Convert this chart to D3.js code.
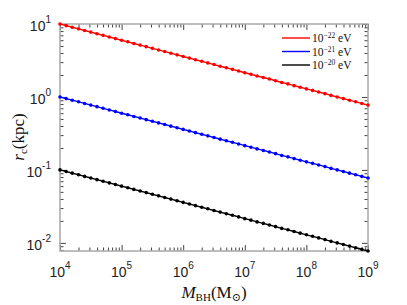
<!DOCTYPE html>
<meta charset="utf-8">
<style>
  body { margin: 0; background: #fff; }
  svg { display: block; }
  .tick-lab { font: 14px "Liberation Sans", Arial, sans-serif; fill: #222; }
  .serif { font-family: "Liberation Serif", "DejaVu Serif", serif; fill: #111; }
</style>
<svg width="407" height="305"></svg>
<script src="https://d3js.org/d3.v7.min.js"></script>
<script>

// black hole masses (M_sun), 0.1 dex apart
var masses = [
  1.00e4, 1.26e4, 1.58e4, 2.00e4, 2.51e4, 3.16e4, 3.98e4, 5.01e4, 6.31e4, 7.94e4,
  1.00e5, 1.26e5, 1.58e5, 2.00e5, 2.51e5, 3.16e5, 3.98e5, 5.01e5, 6.31e5, 7.94e5,
  1.00e6, 1.26e6, 1.58e6, 2.00e6, 2.51e6, 3.16e6, 3.98e6, 5.01e6, 6.31e6, 7.94e6,
  1.00e7, 1.26e7, 1.58e7, 2.00e7, 2.51e7, 3.16e7, 3.98e7, 5.01e7, 6.31e7, 7.94e7,
  1.00e8, 1.26e8, 1.58e8, 2.00e8, 2.51e8, 3.16e8, 3.98e8, 5.01e8, 6.31e8, 7.94e8,
  1.00e9
];

// r_c (kpc) for each boson mass
var rc22 = [
  10.00, 9.50, 9.03, 8.58, 8.15, 7.74, 7.36, 6.99, 6.64, 6.31,
  5.99, 5.70, 5.41, 5.14, 4.89, 4.64, 4.41, 4.19, 3.98, 3.78,
  3.59, 3.41, 3.24, 3.08, 2.93, 2.78, 2.64, 2.51, 2.39, 2.27,
  2.15, 2.05, 1.94, 1.85, 1.76, 1.67, 1.58, 1.51, 1.43, 1.36,
  1.29, 1.23, 1.17, 1.11, 1.05, 1.00, 0.950, 0.903, 0.858, 0.815,
  0.774
];
var rc21 = [
  1.000, 0.950, 0.903, 0.858, 0.815, 0.774, 0.736, 0.699, 0.664, 0.631,
  0.599, 0.570, 0.541, 0.514, 0.489, 0.464, 0.441, 0.419, 0.398, 0.378,
  0.359, 0.341, 0.324, 0.308, 0.293, 0.278, 0.264, 0.251, 0.239, 0.227,
  0.215, 0.205, 0.194, 0.185, 0.176, 0.167, 0.158, 0.151, 0.143, 0.136,
  0.129, 0.123, 0.117, 0.111, 0.105, 0.100, 0.0950, 0.0903, 0.0858, 0.0815,
  0.0774
];
var rc20 = [
  0.1000, 0.0950, 0.0903, 0.0858, 0.0815, 0.0774, 0.0736, 0.0699, 0.0664, 0.0631,
  0.0599, 0.0570, 0.0541, 0.0514, 0.0489, 0.0464, 0.0441, 0.0419, 0.0398, 0.0378,
  0.0359, 0.0341, 0.0324, 0.0308, 0.0293, 0.0278, 0.0264, 0.0251, 0.0239, 0.0227,
  0.0215, 0.0205, 0.0194, 0.0185, 0.0176, 0.0167, 0.0158, 0.0151, 0.0143, 0.0136,
  0.0129, 0.0123, 0.0117, 0.0111, 0.0105, 0.0100, 0.00950, 0.00903, 0.00858, 0.00815,
  0.00774
];

var seriesNames = ["-22", "-21", "-20"];
var seriesColors = ["#ff0000", "#0000ff", "#000000"];
var seriesData = [rc22, rc21, rc20];

var xTickExp = [4, 5, 6, 7, 8, 9];
var yTickExp = [-2, -1, 0, 1];

var svg = d3.select("svg");
var L = 60, R = 368, T = 24, B = 251;

var x = d3.scaleLog().domain([1e4, 1e9]).range([L, R]);
var y = d3.scaleLog().domain([0.00774, 10]).range([B, T]);

// minor tick values
var xMinor = [], yMinor = [];
for (var e = 4; e < 9; e++) for (var k = 2; k <= 9; k++) xMinor.push(k * Math.pow(10, e));
for (var e = -3; e < 1; e++) for (var k = 2; k <= 9; k++) {
  var v = k * Math.pow(10, e);
  if (v >= 0.00774 && v <= 10) yMinor.push(v);
}
var xMajor = xTickExp.map(function(d) { return Math.pow(10, d); });
var yMajor = yTickExp.map(function(d) { return Math.pow(10, d); });

function styleAxis(g) {
  g.select(".domain").remove();
  g.selectAll("text").remove();
  g.selectAll("line").attr("stroke", "#444");
}

// ticks on all four sides, pointing inward
[[d3.axisBottom, B], [d3.axisTop, T]].forEach(function(a) {
  svg.append("g").attr("transform", "translate(0," + a[1] + ")")
    .call(a[0](x).tickValues(xMajor).tickSize(-6)).call(styleAxis);
  svg.append("g").attr("transform", "translate(0," + a[1] + ")")
    .call(a[0](x).tickValues(xMinor).tickSize(-3.5)).call(styleAxis);
});
[[d3.axisLeft, L], [d3.axisRight, R]].forEach(function(a) {
  svg.append("g").attr("transform", "translate(" + a[1] + ",0)")
    .call(a[0](y).tickValues(yMajor).tickSize(-6)).call(styleAxis);
  svg.append("g").attr("transform", "translate(" + a[1] + ",0)")
    .call(a[0](y).tickValues(yMinor).tickSize(-3.5)).call(styleAxis);
});

// frame
svg.append("rect")
  .attr("x", L).attr("y", T).attr("width", R - L).attr("height", B - T)
  .attr("fill", "none").attr("stroke", "#a8a8a8").attr("stroke-width", 1.5);

// tick labels
xTickExp.forEach(function(d) {
  var t = svg.append("text").attr("class", "tick-lab")
    .attr("x", x(Math.pow(10, d))).attr("y", 277).attr("text-anchor", "middle");
  t.append("tspan").text("10");
  t.append("tspan").attr("dy", -8).style("font-size", "10px").text(d);
});
yTickExp.forEach(function(d) {
  var t = svg.append("text").attr("class", "tick-lab")
    .attr("x", 51).attr("y", y(Math.pow(10, d)) + 7).attr("text-anchor", "end");
  t.append("tspan").text("10");
  t.append("tspan").attr("dy", -8).style("font-size", "10px").text(d);
});

// lines + markers
var line = d3.line()
  .x(function(d, i) { return x(masses[i]); })
  .y(function(d) { return y(d); });

seriesData.forEach(function(s, j) {
  svg.append("path").datum(s)
    .attr("d", line)
    .attr("fill", "none")
    .attr("stroke", seriesColors[j])
    .attr("stroke-width", 1.4);
  svg.append("g").selectAll("circle").data(s).enter().append("circle")
    .attr("cx", function(d, i) { return x(masses[i]); })
    .attr("cy", function(d) { return y(d); })
    .attr("r", 1.8)
    .attr("fill", seriesColors[j]);
});

// legend
seriesNames.forEach(function(n, i) {
  var yy = 38 + i * 13.5;
  svg.append("line")
    .attr("x1", 282).attr("x2", 310).attr("y1", yy).attr("y2", yy)
    .attr("stroke", seriesColors[i]).attr("stroke-width", 1.4);
  var t = svg.append("text").attr("class", "serif")
    .attr("x", 312).attr("y", yy + 4).style("font-size", "11.5px");
  t.append("tspan").text("10");
  t.append("tspan").attr("dy", -4).style("font-size", "7.5px").text("\u2212" + n.slice(1));
  t.append("tspan").attr("dy", 4).text(" eV");
});

// axis titles
var xt = svg.append("text").attr("class", "serif")
  .attr("x", 214).attr("y", 298).attr("text-anchor", "middle").style("font-size", "17px");
xt.append("tspan").style("font-style", "italic").text("M");
xt.append("tspan").attr("dy", 3).style("font-size", "11px").text("BH");
xt.append("tspan").attr("dy", -3).text("(M");
xt.append("tspan").attr("dy", 3).style("font-size", "11px").text("\u2299");
xt.append("tspan").attr("dy", -3).text(")");

var yt = svg.append("text").attr("class", "serif")
  .attr("transform", "translate(24,137) rotate(-90)")
  .attr("text-anchor", "middle").style("font-size", "17px");
yt.append("tspan").style("font-style", "italic").text("r");
yt.append("tspan").attr("dy", 3).style("font-size", "11px").text("c");
yt.append("tspan").attr("dy", -3).text("(kpc)");

</script>
